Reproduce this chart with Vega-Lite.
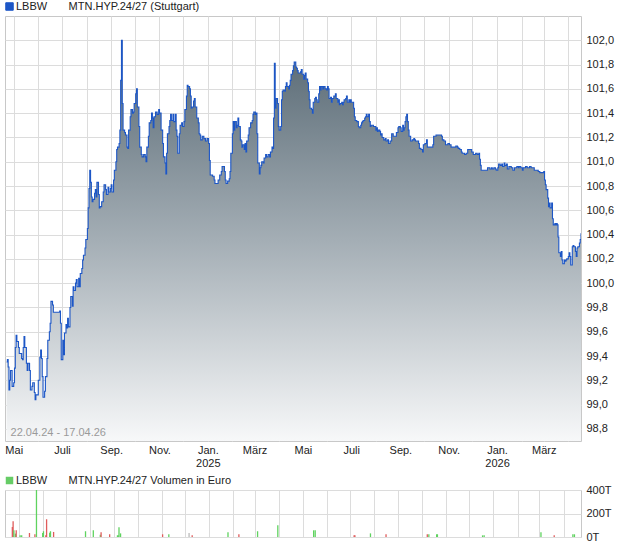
{
"$schema": "https://vega.github.io/schema/vega-lite/v6.json",
"padding": {"left": 3, "top": 0, "right": 0, "bottom": 0},
"background": "white",
"bounds": "flush",
"spacing": 49,
"config": {
 "font": "Liberation Sans",
 "view": {"stroke": "#c8c8c8", "strokeWidth": 1},
 "axis": {"labelFont": "Liberation Sans", "labelFontSize": 11, "labelColor": "#222222", "gridColor": "#dcdcdc", "gridWidth": 1, "domain": false, "ticks": false, "title": null},
 "legend": {"labelFont": "Liberation Sans", "labelFontSize": 11, "labelColor": "#222222", "labelLimit": 400}
},
"resolve": {"scale": {"color": "independent", "shape": "independent"}, "legend": {"color": "independent", "shape": "independent"}},
"datasets": {
 "px": [
{"d":"2024-04-22","p":99.35},{"d":"2024-04-23","p":99.37},{"d":"2024-04-24","p":99.31},{"d":"2024-04-25","p":99.12},{"d":"2024-04-26","p":99.20},{"d":"2024-04-27","p":99.28},{"d":"2024-04-29","p":99.15},{"d":"2024-05-01","p":99.18},{"d":"2024-05-02","p":99.30},{"d":"2024-05-03","p":99.47},{"d":"2024-05-04","p":99.57},{"d":"2024-05-05","p":99.52},{"d":"2024-05-07","p":99.47},{"d":"2024-05-08","p":99.42},{"d":"2024-05-11","p":99.38},{"d":"2024-05-12","p":99.37},{"d":"2024-05-13","p":99.47},{"d":"2024-05-14","p":99.56},{"d":"2024-05-15","p":99.47},{"d":"2024-05-17","p":99.34},{"d":"2024-05-18","p":99.28},{"d":"2024-05-19","p":99.34},{"d":"2024-05-21","p":99.28},{"d":"2024-05-22","p":99.12},{"d":"2024-05-24","p":99.15},{"d":"2024-05-25","p":99.18},{"d":"2024-05-27","p":99.10},{"d":"2024-05-28","p":99.04},{"d":"2024-05-29","p":99.08},{"d":"2024-05-31","p":99.08},
{"d":"2024-06-01","p":99.20},{"d":"2024-06-03","p":99.39},{"d":"2024-06-04","p":99.45},{"d":"2024-06-05","p":99.38},{"d":"2024-06-06","p":99.23},{"d":"2024-06-07","p":99.06},{"d":"2024-06-09","p":99.11},{"d":"2024-06-10","p":99.23},{"d":"2024-06-12","p":99.38},{"d":"2024-06-13","p":99.53},{"d":"2024-06-15","p":99.60},{"d":"2024-06-16","p":99.67},{"d":"2024-06-17","p":99.85},{"d":"2024-06-19","p":99.82},{"d":"2024-06-20","p":99.76},{"d":"2024-06-23","p":99.76},{"d":"2024-06-26","p":99.76},{"d":"2024-06-28","p":99.77},{"d":"2024-06-29","p":99.67},{"d":"2024-06-30","p":99.37},
{"d":"2024-07-02","p":99.53},{"d":"2024-07-03","p":99.41},{"d":"2024-07-04","p":99.59},{"d":"2024-07-06","p":99.66},{"d":"2024-07-07","p":99.63},{"d":"2024-07-08","p":99.71},{"d":"2024-07-09","p":99.64},{"d":"2024-07-11","p":99.80},{"d":"2024-07-12","p":99.89},{"d":"2024-07-14","p":99.81},{"d":"2024-07-15","p":99.97},{"d":"2024-07-16","p":99.94},{"d":"2024-07-18","p":100.00},{"d":"2024-07-19","p":100.03},{"d":"2024-07-20","p":99.97},{"d":"2024-07-22","p":100.04},{"d":"2024-07-23","p":99.97},{"d":"2024-07-24","p":100.08},{"d":"2024-07-26","p":100.12},{"d":"2024-07-27","p":100.19},{"d":"2024-07-28","p":100.23},{"d":"2024-07-30","p":100.29},{"d":"2024-07-31","p":100.36},
{"d":"2024-08-02","p":100.45},{"d":"2024-08-03","p":100.62},{"d":"2024-08-04","p":100.78},{"d":"2024-08-05","p":100.93},{"d":"2024-08-06","p":100.83},{"d":"2024-08-07","p":100.71},{"d":"2024-08-08","p":100.67},{"d":"2024-08-09","p":100.69},{"d":"2024-08-11","p":100.74},{"d":"2024-08-12","p":100.77},{"d":"2024-08-13","p":100.71},{"d":"2024-08-14","p":100.83},{"d":"2024-08-16","p":100.73},{"d":"2024-08-17","p":100.62},{"d":"2024-08-18","p":100.63},{"d":"2024-08-20","p":100.67},{"d":"2024-08-22","p":100.75},{"d":"2024-08-23","p":100.81},{"d":"2024-08-25","p":100.77},{"d":"2024-08-26","p":100.73},{"d":"2024-08-28","p":100.79},{"d":"2024-08-29","p":100.75},{"d":"2024-08-31","p":100.78},
{"d":"2024-09-01","p":100.81},{"d":"2024-09-02","p":100.75},{"d":"2024-09-04","p":100.85},{"d":"2024-09-05","p":100.93},{"d":"2024-09-07","p":101.00},{"d":"2024-09-08","p":101.10},{"d":"2024-09-09","p":101.12},{"d":"2024-09-11","p":101.15},{"d":"2024-09-12","p":101.26},{"d":"2024-09-13","p":101.67},{"d":"2024-09-14","p":102.00},{"d":"2024-09-15","p":101.48},{"d":"2024-09-16","p":101.26},{"d":"2024-09-18","p":101.24},{"d":"2024-09-19","p":101.22},{"d":"2024-09-21","p":101.12},{"d":"2024-09-22","p":101.11},{"d":"2024-09-23","p":101.26},{"d":"2024-09-25","p":101.37},{"d":"2024-09-26","p":101.43},{"d":"2024-09-28","p":101.40},{"d":"2024-09-29","p":101.41},{"d":"2024-09-30","p":101.48},
{"d":"2024-10-02","p":101.56},{"d":"2024-10-03","p":101.60},{"d":"2024-10-04","p":101.45},{"d":"2024-10-06","p":101.29},{"d":"2024-10-07","p":101.12},{"d":"2024-10-09","p":101.06},{"d":"2024-10-10","p":101.04},{"d":"2024-10-12","p":101.06},{"d":"2024-10-14","p":101.04},{"d":"2024-10-15","p":101.00},{"d":"2024-10-16","p":101.12},{"d":"2024-10-18","p":101.21},{"d":"2024-10-19","p":101.32},{"d":"2024-10-21","p":101.34},{"d":"2024-10-22","p":101.40},{"d":"2024-10-23","p":101.36},{"d":"2024-10-24","p":101.28},{"d":"2024-10-25","p":101.37},{"d":"2024-10-27","p":101.41},{"d":"2024-10-29","p":101.39},{"d":"2024-10-31","p":101.43},
{"d":"2024-11-01","p":101.40},{"d":"2024-11-03","p":101.26},{"d":"2024-11-05","p":101.15},{"d":"2024-11-06","p":101.04},{"d":"2024-11-08","p":100.99},{"d":"2024-11-09","p":100.90},{"d":"2024-11-10","p":101.07},{"d":"2024-11-11","p":101.23},{"d":"2024-11-13","p":101.29},{"d":"2024-11-14","p":101.34},{"d":"2024-11-15","p":101.39},{"d":"2024-11-16","p":101.34},{"d":"2024-11-18","p":101.39},{"d":"2024-11-19","p":101.33},{"d":"2024-11-21","p":101.39},{"d":"2024-11-22","p":101.26},{"d":"2024-11-23","p":101.21},{"d":"2024-11-24","p":101.07},{"d":"2024-11-26","p":101.23},{"d":"2024-11-27","p":101.30},{"d":"2024-11-29","p":101.32},{"d":"2024-11-30","p":101.29},
{"d":"2024-12-02","p":101.33},{"d":"2024-12-03","p":101.43},{"d":"2024-12-05","p":101.54},{"d":"2024-12-06","p":101.63},{"d":"2024-12-07","p":101.62},{"d":"2024-12-09","p":101.60},{"d":"2024-12-10","p":101.54},{"d":"2024-12-11","p":101.44},{"d":"2024-12-12","p":101.45},{"d":"2024-12-14","p":101.50},{"d":"2024-12-15","p":101.52},{"d":"2024-12-16","p":101.45},{"d":"2024-12-18","p":101.36},{"d":"2024-12-20","p":101.32},{"d":"2024-12-21","p":101.23},{"d":"2024-12-22","p":101.22},{"d":"2024-12-23","p":101.18},{"d":"2024-12-25","p":101.21},{"d":"2024-12-27","p":101.19},{"d":"2024-12-29","p":101.17},{"d":"2024-12-31","p":101.19},
{"d":"2025-01-02","p":101.15},{"d":"2025-01-03","p":101.01},{"d":"2025-01-04","p":100.89},{"d":"2025-01-07","p":100.88},{"d":"2025-01-09","p":100.85},{"d":"2025-01-10","p":100.82},{"d":"2025-01-13","p":100.82},{"d":"2025-01-14","p":100.85},{"d":"2025-01-16","p":100.89},{"d":"2025-01-18","p":100.92},{"d":"2025-01-19","p":100.96},{"d":"2025-01-21","p":100.96},{"d":"2025-01-22","p":100.92},{"d":"2025-01-23","p":100.85},{"d":"2025-01-24","p":100.82},{"d":"2025-01-26","p":100.84},{"d":"2025-01-28","p":100.86},{"d":"2025-01-29","p":100.92},{"d":"2025-01-30","p":101.07},
{"d":"2025-02-01","p":101.23},{"d":"2025-02-02","p":101.33},{"d":"2025-02-03","p":101.26},{"d":"2025-02-04","p":101.33},{"d":"2025-02-06","p":101.28},{"d":"2025-02-07","p":101.30},{"d":"2025-02-08","p":101.36},{"d":"2025-02-09","p":101.29},{"d":"2025-02-11","p":101.18},{"d":"2025-02-12","p":101.17},{"d":"2025-02-13","p":101.12},{"d":"2025-02-14","p":101.14},{"d":"2025-02-16","p":101.10},{"d":"2025-02-17","p":101.15},{"d":"2025-02-18","p":101.08},{"d":"2025-02-19","p":101.17},{"d":"2025-02-21","p":101.22},{"d":"2025-02-22","p":101.28},{"d":"2025-02-24","p":101.32},{"d":"2025-02-26","p":101.34},{"d":"2025-02-27","p":101.39},{"d":"2025-02-28","p":101.41},
{"d":"2025-03-02","p":101.39},{"d":"2025-03-03","p":101.40},{"d":"2025-03-04","p":101.23},{"d":"2025-03-05","p":100.99},{"d":"2025-03-07","p":100.90},{"d":"2025-03-08","p":100.95},{"d":"2025-03-09","p":100.97},{"d":"2025-03-10","p":101.00},{"d":"2025-03-12","p":100.99},{"d":"2025-03-13","p":101.03},{"d":"2025-03-15","p":101.06},{"d":"2025-03-16","p":101.04},{"d":"2025-03-18","p":101.06},{"d":"2025-03-20","p":101.04},{"d":"2025-03-21","p":101.08},{"d":"2025-03-23","p":101.12},{"d":"2025-03-24","p":101.11},{"d":"2025-03-25","p":101.36},{"d":"2025-03-26","p":101.81},{"d":"2025-03-27","p":101.44},{"d":"2025-03-28","p":101.52},{"d":"2025-03-30","p":101.48},{"d":"2025-03-31","p":101.29},
{"d":"2025-04-01","p":101.26},{"d":"2025-04-03","p":101.29},{"d":"2025-04-04","p":101.51},{"d":"2025-04-05","p":101.58},{"d":"2025-04-06","p":101.59},{"d":"2025-04-08","p":101.58},{"d":"2025-04-09","p":101.62},{"d":"2025-04-10","p":101.65},{"d":"2025-04-11","p":101.62},{"d":"2025-04-13","p":101.60},{"d":"2025-04-14","p":101.63},{"d":"2025-04-15","p":101.67},{"d":"2025-04-16","p":101.72},{"d":"2025-04-18","p":101.75},{"d":"2025-04-19","p":101.79},{"d":"2025-04-20","p":101.82},{"d":"2025-04-22","p":101.78},{"d":"2025-04-23","p":101.77},{"d":"2025-04-24","p":101.75},{"d":"2025-04-25","p":101.73},{"d":"2025-04-27","p":101.73},{"d":"2025-04-28","p":101.74},{"d":"2025-04-29","p":101.76},{"d":"2025-04-30","p":101.72},
{"d":"2025-05-02","p":101.68},{"d":"2025-05-03","p":101.71},{"d":"2025-05-04","p":101.73},{"d":"2025-05-05","p":101.68},{"d":"2025-05-07","p":101.65},{"d":"2025-05-08","p":101.58},{"d":"2025-05-09","p":101.51},{"d":"2025-05-10","p":101.44},{"d":"2025-05-12","p":101.43},{"d":"2025-05-13","p":101.40},{"d":"2025-05-14","p":101.49},{"d":"2025-05-16","p":101.52},{"d":"2025-05-17","p":101.53},{"d":"2025-05-18","p":101.51},{"d":"2025-05-19","p":101.49},{"d":"2025-05-21","p":101.56},{"d":"2025-05-22","p":101.62},{"d":"2025-05-23","p":101.59},{"d":"2025-05-24","p":101.62},{"d":"2025-05-26","p":101.60},{"d":"2025-05-27","p":101.62},{"d":"2025-05-28","p":101.62},{"d":"2025-05-29","p":101.60},{"d":"2025-05-31","p":101.59},
{"d":"2025-06-01","p":101.62},{"d":"2025-06-02","p":101.60},{"d":"2025-06-03","p":101.52},{"d":"2025-06-05","p":101.53},{"d":"2025-06-06","p":101.49},{"d":"2025-06-07","p":101.52},{"d":"2025-06-09","p":101.54},{"d":"2025-06-10","p":101.54},{"d":"2025-06-11","p":101.56},{"d":"2025-06-12","p":101.52},{"d":"2025-06-14","p":101.49},{"d":"2025-06-15","p":101.51},{"d":"2025-06-16","p":101.47},{"d":"2025-06-17","p":101.48},{"d":"2025-06-19","p":101.49},{"d":"2025-06-20","p":101.47},{"d":"2025-06-21","p":101.49},{"d":"2025-06-22","p":101.51},{"d":"2025-06-24","p":101.52},{"d":"2025-06-25","p":101.54},{"d":"2025-06-26","p":101.49},{"d":"2025-06-28","p":101.51},{"d":"2025-06-29","p":101.49},{"d":"2025-06-30","p":101.51},
{"d":"2025-07-01","p":101.49},{"d":"2025-07-02","p":101.49},{"d":"2025-07-04","p":101.44},{"d":"2025-07-05","p":101.37},{"d":"2025-07-06","p":101.34},{"d":"2025-07-08","p":101.33},{"d":"2025-07-09","p":101.33},{"d":"2025-07-10","p":101.29},{"d":"2025-07-11","p":101.28},{"d":"2025-07-13","p":101.30},{"d":"2025-07-14","p":101.32},{"d":"2025-07-15","p":101.33},{"d":"2025-07-16","p":101.34},{"d":"2025-07-18","p":101.36},{"d":"2025-07-19","p":101.37},{"d":"2025-07-20","p":101.39},{"d":"2025-07-21","p":101.37},{"d":"2025-07-23","p":101.39},{"d":"2025-07-24","p":101.33},{"d":"2025-07-25","p":101.29},{"d":"2025-07-26","p":101.30},{"d":"2025-07-28","p":101.30},{"d":"2025-07-29","p":101.29},{"d":"2025-07-30","p":101.29},
{"d":"2025-08-01","p":101.26},{"d":"2025-08-02","p":101.28},{"d":"2025-08-03","p":101.25},{"d":"2025-08-04","p":101.26},{"d":"2025-08-06","p":101.25},{"d":"2025-08-07","p":101.22},{"d":"2025-08-08","p":101.23},{"d":"2025-08-09","p":101.20},{"d":"2025-08-11","p":101.18},{"d":"2025-08-13","p":101.19},{"d":"2025-08-14","p":101.17},{"d":"2025-08-16","p":101.18},{"d":"2025-08-17","p":101.15},{"d":"2025-08-19","p":101.17},{"d":"2025-08-20","p":101.17},{"d":"2025-08-21","p":101.23},{"d":"2025-08-23","p":101.21},{"d":"2025-08-25","p":101.21},{"d":"2025-08-27","p":101.24},{"d":"2025-08-29","p":101.28},{"d":"2025-08-30","p":101.29},
{"d":"2025-09-01","p":101.28},{"d":"2025-09-02","p":101.25},{"d":"2025-09-04","p":101.30},{"d":"2025-09-05","p":101.26},{"d":"2025-09-06","p":101.28},{"d":"2025-09-07","p":101.33},{"d":"2025-09-08","p":101.37},{"d":"2025-09-09","p":101.39},{"d":"2025-09-10","p":101.33},{"d":"2025-09-11","p":101.26},{"d":"2025-09-12","p":101.21},{"d":"2025-09-14","p":101.17},{"d":"2025-09-16","p":101.18},{"d":"2025-09-18","p":101.19},{"d":"2025-09-19","p":101.18},{"d":"2025-09-20","p":101.17},{"d":"2025-09-22","p":101.17},{"d":"2025-09-24","p":101.15},{"d":"2025-09-25","p":101.11},{"d":"2025-09-27","p":101.10},{"d":"2025-09-29","p":101.08},{"d":"2025-09-30","p":101.14},
{"d":"2025-10-02","p":101.15},{"d":"2025-10-04","p":101.18},{"d":"2025-10-05","p":101.12},{"d":"2025-10-07","p":101.12},{"d":"2025-10-10","p":101.12},{"d":"2025-10-12","p":101.14},{"d":"2025-10-13","p":101.21},{"d":"2025-10-16","p":101.22},{"d":"2025-10-20","p":101.22},{"d":"2025-10-23","p":101.21},{"d":"2025-10-24","p":101.18},{"d":"2025-10-26","p":101.17},{"d":"2025-10-28","p":101.14},{"d":"2025-10-31","p":101.15},
{"d":"2025-11-02","p":101.14},{"d":"2025-11-04","p":101.12},{"d":"2025-11-06","p":101.12},{"d":"2025-11-08","p":101.12},{"d":"2025-11-10","p":101.13},{"d":"2025-11-12","p":101.12},{"d":"2025-11-13","p":101.11},{"d":"2025-11-15","p":101.10},{"d":"2025-11-17","p":101.08},{"d":"2025-11-18","p":101.07},{"d":"2025-11-21","p":101.06},{"d":"2025-11-23","p":101.07},{"d":"2025-11-25","p":101.10},{"d":"2025-11-28","p":101.10},{"d":"2025-11-30","p":101.08},
{"d":"2025-12-02","p":101.06},{"d":"2025-12-04","p":101.06},{"d":"2025-12-05","p":101.07},{"d":"2025-12-07","p":101.06},{"d":"2025-12-09","p":101.07},{"d":"2025-12-10","p":101.02},{"d":"2025-12-11","p":100.97},{"d":"2025-12-12","p":100.93},{"d":"2025-12-15","p":100.93},{"d":"2025-12-17","p":100.93},{"d":"2025-12-20","p":100.95},{"d":"2025-12-21","p":100.95},{"d":"2025-12-23","p":100.94},{"d":"2025-12-25","p":100.95},{"d":"2025-12-26","p":100.94},{"d":"2025-12-28","p":100.95},{"d":"2025-12-30","p":100.94},{"d":"2025-12-31","p":100.93},
{"d":"2026-01-02","p":100.95},{"d":"2026-01-03","p":100.98},{"d":"2026-01-05","p":100.97},{"d":"2026-01-07","p":100.98},{"d":"2026-01-08","p":100.96},{"d":"2026-01-10","p":100.99},{"d":"2026-01-11","p":100.97},{"d":"2026-01-13","p":100.98},{"d":"2026-01-14","p":100.94},{"d":"2026-01-16","p":100.96},{"d":"2026-01-18","p":100.96},{"d":"2026-01-19","p":100.95},{"d":"2026-01-21","p":100.93},{"d":"2026-01-23","p":100.95},{"d":"2026-01-25","p":100.95},{"d":"2026-01-26","p":100.96},{"d":"2026-01-28","p":100.95},{"d":"2026-01-29","p":100.96},{"d":"2026-01-31","p":100.95},
{"d":"2026-02-02","p":100.93},{"d":"2026-02-03","p":100.95},{"d":"2026-02-06","p":100.96},{"d":"2026-02-08","p":100.95},{"d":"2026-02-11","p":100.96},{"d":"2026-02-13","p":100.95},{"d":"2026-02-15","p":100.95},{"d":"2026-02-17","p":100.93},{"d":"2026-02-19","p":100.93},{"d":"2026-02-22","p":100.92},{"d":"2026-02-24","p":100.91},{"d":"2026-02-27","p":100.91},
{"d":"2026-03-01","p":100.92},{"d":"2026-03-02","p":100.85},{"d":"2026-03-03","p":100.81},{"d":"2026-03-04","p":100.77},{"d":"2026-03-06","p":100.70},{"d":"2026-03-07","p":100.63},{"d":"2026-03-08","p":100.66},{"d":"2026-03-09","p":100.62},{"d":"2026-03-11","p":100.66},{"d":"2026-03-12","p":100.53},{"d":"2026-03-13","p":100.48},{"d":"2026-03-15","p":100.49},{"d":"2026-03-16","p":100.48},{"d":"2026-03-17","p":100.49},{"d":"2026-03-18","p":100.48},{"d":"2026-03-19","p":100.38},{"d":"2026-03-20","p":100.25},{"d":"2026-03-22","p":100.22},{"d":"2026-03-23","p":100.26},{"d":"2026-03-24","p":100.19},{"d":"2026-03-25","p":100.16},{"d":"2026-03-27","p":100.19},{"d":"2026-03-28","p":100.18},{"d":"2026-03-29","p":100.19},{"d":"2026-03-30","p":100.20},
{"d":"2026-04-01","p":100.22},{"d":"2026-04-02","p":100.25},{"d":"2026-04-03","p":100.22},{"d":"2026-04-04","p":100.15},{"d":"2026-04-06","p":100.30},{"d":"2026-04-07","p":100.31},{"d":"2026-04-08","p":100.30},{"d":"2026-04-10","p":100.26},{"d":"2026-04-11","p":100.22},{"d":"2026-04-12","p":100.29},{"d":"2026-04-13","p":100.30},{"d":"2026-04-15","p":100.33},{"d":"2026-04-16","p":100.36},{"d":"2026-04-17","p":100.41}
 ],
 "vol": [
{"d":"2024-04-23","v":86,"c":"r"},{"d":"2024-04-24","v":134,"c":"r"},{"d":"2024-04-25","v":57,"c":"g"},{"d":"2024-04-27","v":29,"c":"g"},{"d":"2024-04-28","v":57,"c":"r"},{"d":"2024-05-03","v":14,"c":"g"},{"d":"2024-05-05","v":14,"c":"g"},{"d":"2024-05-15","v":34,"c":"r"},{"d":"2024-05-22","v":23,"c":"r"},{"d":"2024-05-24","v":400,"c":"g"},{"d":"2024-06-01","v":34,"c":"g"},{"d":"2024-06-02","v":49,"c":"g"},{"d":"2024-06-05","v":14,"c":"r"},{"d":"2024-06-06","v":151,"c":"r"},{"d":"2024-06-10","v":37,"c":"g"},{"d":"2024-06-11","v":49,"c":"g"},{"d":"2024-06-15","v":43,"c":"r"},{"d":"2024-07-26","v":49,"c":"g"},{"d":"2024-08-05","v":57,"c":"g"},{"d":"2024-08-14","v":20,"c":"g"},{"d":"2024-08-15","v":40,"c":"r"},{"d":"2024-08-26","v":23,"c":"r"},{"d":"2024-09-05","v":14,"c":"g"},{"d":"2024-09-06","v":14,"c":"g"},{"d":"2024-09-07","v":83,"c":"g"},{"d":"2024-09-09","v":31,"c":"g"},{"d":"2024-11-02","v":23,"c":"r"},{"d":"2024-11-10","v":23,"c":"g"},{"d":"2024-12-06","v":34,"c":"n"},{"d":"2024-12-10","v":14,"c":"r"},{"d":"2025-01-25","v":40,"c":"g"},{"d":"2025-02-08","v":23,"c":"r"},{"d":"2025-03-04","v":49,"c":"g"},{"d":"2025-03-30","v":100,"c":"g"},{"d":"2025-05-15","v":57,"c":"g"},{"d":"2025-05-17","v":57,"c":"g"},{"d":"2025-07-06","v":14,"c":"r"},{"d":"2025-07-07","v":14,"c":"r"},{"d":"2025-07-27","v":31,"c":"g"},{"d":"2025-08-16","v":23,"c":"r"},{"d":"2025-10-08","v":23,"c":"r"},{"d":"2025-10-10","v":23,"c":"g"},{"d":"2025-10-20","v":23,"c":"g"},{"d":"2025-10-21","v":23,"c":"g"},{"d":"2025-12-18","v":14,"c":"g"},{"d":"2025-12-20","v":14,"c":"g"},{"d":"2026-03-03","v":40,"c":"g"},{"d":"2026-03-20","v":14,"c":"r"},{"d":"2026-04-13","v":23,"c":"g"},{"d":"2026-04-15","v":23,"c":"g"}
 ]
},
"vconcat": [
 {
  "width": 576, "height": 425,
  "data": {"name": "px"},
  "encoding": {
   "x": {"field": "d", "type": "temporal",
     "scale": {"type": "utc", "domain": [{"year": 2024, "month": 4, "date": 20, "utc": true}, {"year": 2026, "month": 4, "date": 17, "utc": true}]},
     "axis": {"grid": true, "tickCount": {"interval": "month", "step": 1}, "labelOverlap": false, "labelFlush": false, "labelPadding": 3, "labelLineHeight": 13, "labelBaseline": "top",
       "labelExpr": "utcmonth(datum.value)==0 ? ['Jan.', utcFormat(datum.value, '%Y')] : utcmonth(datum.value)==2 ? 'März' : utcmonth(datum.value)==4 ? 'Mai' : utcmonth(datum.value)==6 ? 'Juli' : utcmonth(datum.value)==8 ? 'Sep.' : utcmonth(datum.value)==10 ? 'Nov.' : ''"}},
   "y": {"field": "p", "type": "quantitative",
     "scale": {"domain": [98.7, 102.2], "zero": false, "nice": false},
     "axis": {"orient": "right", "grid": true, "labelPadding": 5,
       "values": [98.8, 99.0, 99.2, 99.4, 99.6, 99.8, 100.0, 100.2, 100.4, 100.6, 100.8, 101.0, 101.2, 101.4, 101.6, 101.8, 102.0],
       "labelExpr": "replace(format(datum.value, '.1f'), '.', ',')"}}
  },
  "layer": [
   {"mark": {"type": "area", "interpolate": "step-after", "clip": true,
     "fill": {"gradient": "linear", "x1": 0, "y1": 0, "x2": 0, "y2": 1,
       "stops": [{"offset": 0, "color": "#566772"}, {"offset": 0.5, "color": "#a4aeb5"}, {"offset": 1, "color": "#f7f8f9"}]}},
    "encoding": {"y2": {"datum": 98.7}}},
   {"mark": {"type": "line", "interpolate": "step-after", "strokeWidth": 1.1, "clip": true},
    "encoding": {"color": {"datum": "LBBW", "scale": {"range": ["#1c56c6"]},
      "legend": {"orient": "none", "legendX": -1, "legendY": -15, "title": null, "direction": "horizontal", "padding": 0, "labelOffset": 1, "symbolType": "square", "symbolSize": 56,
        "labelExpr": "'LBBW' + '\u00a0\u00a0\u00a0\u00a0\u00a0\u00a0\u00a0' + 'MTN.HYP.24/27 (Stuttgart)'",
        "encode": {"symbols": {"update": {"fill": {"value": "#1c56c6"}, "stroke": {"value": "#333333"}, "strokeWidth": {"value": 1}, "opacity": {"value": 1}, "shape": {"value": "square"}, "size": {"value": 56}}}}}}}},
   {"data": {"values": [{"d": "2024-04-27", "p": 98.763, "t": "22.04.24 - 17.04.26"}]},
    "mark": {"type": "text", "align": "left", "baseline": "middle", "color": "#9a9a9a", "fontSize": 11, "font": "Liberation Sans"},
    "encoding": {"text": {"field": "t"}}}
  ]
 },
 {
  "width": 576, "height": 47,
  "data": {"name": "vol"},
  "encoding": {
   "x": {"field": "d", "type": "temporal",
     "scale": {"type": "utc", "domain": [{"year": 2024, "month": 4, "date": 20, "utc": true}, {"year": 2026, "month": 4, "date": 17, "utc": true}]},
     "axis": {"grid": true, "labels": false, "tickCount": {"interval": "month", "step": 1}}},
   "y": {"field": "v", "type": "quantitative",
     "scale": {"domain": [0, 400], "nice": false},
     "axis": {"orient": "right", "grid": true, "labelPadding": 5, "values": [0, 200, 400], "labelExpr": "datum.value + 'T'"}}
  },
  "layer": [
   {"mark": {"type": "bar", "width": 1.3, "clip": true},
    "encoding": {"color": {"field": "c", "type": "nominal", "scale": {"domain": ["g", "r", "n"], "range": ["#5fd35f", "#e05c5c", "#bbbbbb"]}, "legend": null}}},
   {"mark": {"type": "point", "filled": true, "color": "#66cc66", "opacity": 0},
    "encoding": {"shape": {"datum": "LBBW", "scale": {"range": ["square"]},
      "legend": {"orient": "none", "legendX": -1, "legendY": -15, "title": null, "direction": "horizontal", "padding": 0, "labelOffset": 1, "symbolType": "square", "symbolSize": 56, "symbolFillColor": "#66cc66", "symbolStrokeColor": "#333333", "symbolOpacity": 1,
        "labelExpr": "'LBBW' + '\u00a0\u00a0\u00a0\u00a0\u00a0\u00a0\u00a0' + 'MTN.HYP.24/27 Volumen in Euro'",
        "encode": {"symbols": {"update": {"fill": {"value": "#66cc66"}, "stroke": {"value": "#333333"}, "strokeWidth": {"value": 1}, "opacity": {"value": 1}, "fillOpacity": {"value": 1}, "shape": {"value": "square"}, "size": {"value": 56}}}}}}}}
  ]
 }
]
}
